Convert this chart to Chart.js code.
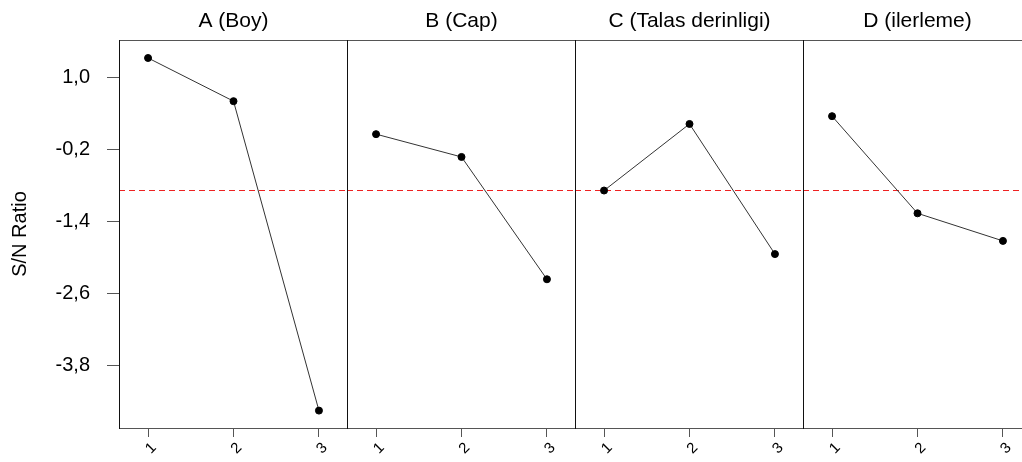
<!DOCTYPE html>
<html>
<head>
<meta charset="utf-8">
<script src="https://cdn.jsdelivr.net/npm/chart.js@4.4.1/dist/chart.umd.min.js"></script>
<style>
body { margin: 0; background: #fff; overflow: hidden; }
#wrap { position: relative; width: 1022px; height: 462px; overflow: hidden; }
canvas { position: absolute; top: 0; }
</style>
</head>
<body>
<div id="wrap">
    <canvas id="p0" width="348" height="462" style="left:0px"></canvas>
    <canvas id="p1" width="229" height="462" style="left:347px"></canvas>
    <canvas id="p2" width="229" height="462" style="left:575px"></canvas>
    <canvas id="p3" width="229" height="462" style="left:803px"></canvas>
</div>
<script>
var levels = [1, 2, 3];
var levelLabels = ['1', '2', '3'];
var panelTitles = ['A (Boy)', 'B (Cap)', 'C (Talas derinligi)', 'D (ilerleme)'];
var boyValues = [1.32, 0.60, -4.56];
var capValues = [0.05, -0.33, -2.37];
var talasValues = [-0.89, 0.22, -1.95];
var ilerlemeValues = [0.35, -1.27, -1.73];
var yTicks = [1.0, -0.2, -1.4, -2.6, -3.8];
var yTickLabels = ['1,0', '-0,2', '-1,4', '-2,6', '-3,8'];

var panelValues = [boyValues, capValues, talasValues, ilerlemeValues];
var allValues = [].concat.apply([], panelValues);
var grandMean = allValues.reduce(function(a, b) { return a + b; }, 0) / allValues.length;

var fontName = '"Liberation Sans", Arial, sans-serif';

// frame round the plot area, dashed mean line, panel title over the plot area
var framePlugin = {
    id: 'frame',
    beforeDatasetsDraw: function(chart) {
        var a = chart.chartArea;
        var ctx = chart.ctx;
        var y = Math.round(chart.scales.y.getPixelForValue(grandMean)) + 0.5;
        ctx.save();
        ctx.lineWidth = 1;
        ctx.strokeStyle = '#ee2222';
        ctx.setLineDash([6, 4]);
        ctx.beginPath();
        ctx.moveTo(a.left, y);
        ctx.lineTo(a.right, y);
        ctx.stroke();
        ctx.setLineDash([]);
        ctx.strokeStyle = '#555';
        ctx.beginPath();
        ctx.moveTo(a.left, a.top + 0.5);
        ctx.lineTo(a.right, a.top + 0.5);
        ctx.moveTo(a.left, a.bottom + 0.5);
        ctx.lineTo(a.right, a.bottom + 0.5);
        ctx.stroke();
        ctx.strokeStyle = '#111';
        ctx.beginPath();
        ctx.moveTo(a.left + 0.5, a.top);
        ctx.lineTo(a.left + 0.5, a.bottom + 1);
        ctx.moveTo(a.right - 0.5, a.top);
        ctx.lineTo(a.right - 0.5, a.bottom + 1);
        ctx.stroke();

        ctx.fillStyle = '#000';
        ctx.font = '21px ' + fontName;
        ctx.textAlign = 'center';
        ctx.textBaseline = 'middle';
        ctx.fillText(chart.options.panelTitle, (a.left + a.right) / 2, 21);
        ctx.restore();
    }
};

function makePanel(i) {
    var first = (i === 0);
    var points = levels.map(function(l, k) { return { x: l, y: panelValues[i][k] }; });

    new Chart(document.getElementById('p' + i), {
        type: 'line',
        data: {
            datasets: [{
                data: points,
                borderColor: '#333',
                borderWidth: 1,
                pointBackgroundColor: '#000',
                pointBorderColor: '#000',
                pointRadius: 3.5,
                tension: 0
            }]
        },
        plugins: [framePlugin],
        options: {
            panelTitle: panelTitles[i],
            responsive: false,
            animation: false,
            layout: { autoPadding: false, padding: { top: 40, left: 0, right: 0, bottom: 0 } },
            plugins: {
                legend: { display: false },
                tooltip: { enabled: false },
                title: { display: false }
            },
            scales: {
                x: {
                    type: 'linear',
                    min: 0.66,
                    max: 3.34,
                    border: { display: false },
                    grid: { drawOnChartArea: false, drawTicks: true, tickLength: 9, color: '#555' },
                    ticks: {
                        color: '#000',
                        font: { family: fontName, size: 15 },
                        minRotation: 45,
                        maxRotation: 45,
                        autoSkip: false,
                        padding: 2,
                        labelOffset: 6,
                        callback: function(v, idx) { return levelLabels[idx]; }
                    },
                    afterBuildTicks: function(scale) {
                        scale.ticks = levels.map(function(l) { return { value: l }; });
                    },
                    afterFit: function(scale) {
                        scale.height = 34;
                        scale.paddingLeft = 0;
                        scale.paddingRight = 0;
                    }
                },
                y: {
                    display: first,
                    min: -4.85,
                    max: 1.62,
                    border: { display: false },
                    grid: { drawOnChartArea: false, drawTicks: true, tickLength: 12, color: '#555' },
                    title: {
                        display: true,
                        text: 'S/N Ratio',
                        color: '#000',
                        font: { family: fontName, size: 20 },
                        padding: { top: 8, bottom: 0 }
                    },
                    ticks: {
                        color: '#000',
                        font: { family: fontName, size: 20 },
                        padding: 17,
                        callback: function(v, idx) { return yTickLabels[idx]; }
                    },
                    afterBuildTicks: function(scale) {
                        scale.ticks = yTicks.map(function(t) { return { value: t }; });
                    },
                    afterFit: function(scale) {
                        if (first) scale.width = 119;
                        scale.paddingTop = 0;
                        scale.paddingBottom = 0;
                    }
                }
            }
        }
    });
}

for (var i = 0; i < panelTitles.length; i++) {
    makePanel(i);
}
</script>
</body>
</html>
